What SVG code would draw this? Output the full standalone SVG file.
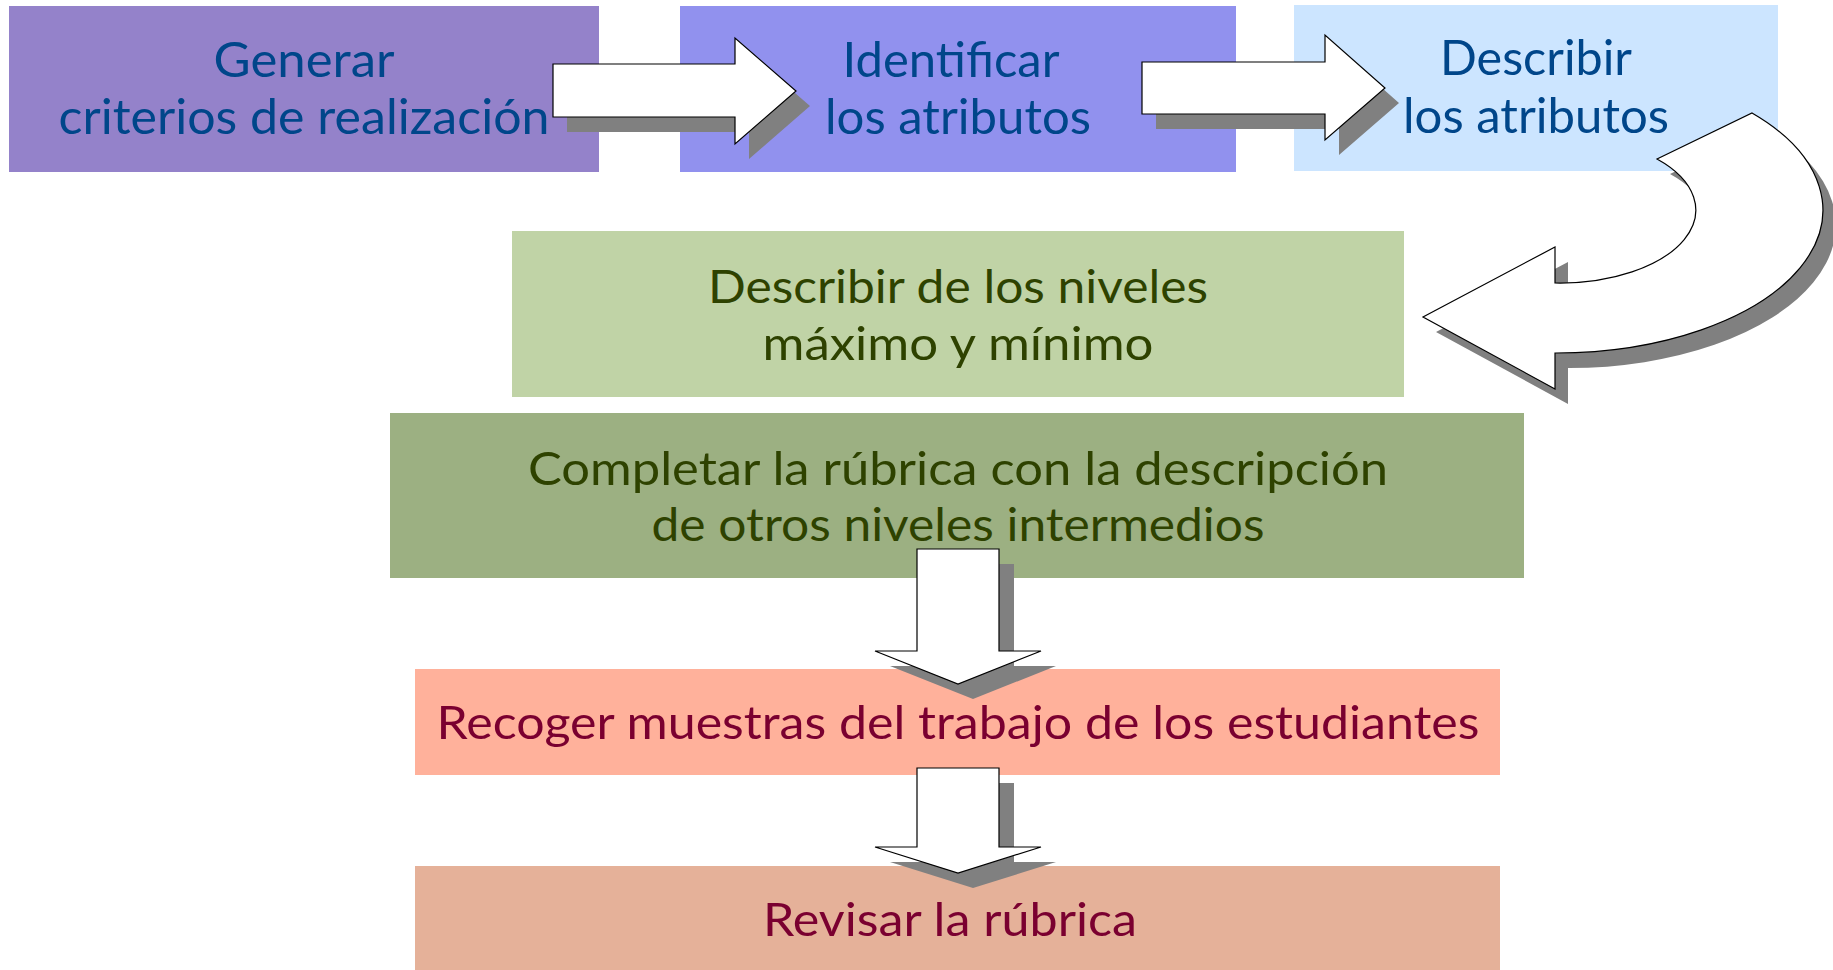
<svg xmlns="http://www.w3.org/2000/svg" width="1833" height="970" viewBox="0 0 1833 970">
<style>
  .lbl { font-family: Lato, "Liberation Sans", sans-serif; text-anchor: middle; }
  .blue { fill: #00468A; font-size: 48px; }
  .green { fill: #2E4200; font-size: 46px; }
  .red { fill: #7A0030; font-size: 46px; }
  .arrow { fill: #FFFFFF; stroke: #000000; stroke-width: 1.2; stroke-linejoin: miter; }
  .shadow { fill: #808080; stroke: none; }
</style>
<defs>
  <path id="a1" d="M553,64 L735,64 L735,38 L796,91 L735,144 L735,117 L553,117 Z"/>
  <path id="a2" d="M1142,62 L1325,62 L1325,35 L1385,88 L1325,140 L1325,114 L1142,114 Z"/>
  <path id="a3" d="M1752,113 A267,143 0 0 1 1555,353 L1555,389 L1423,317 L1555,247 L1555,283 A136,73 0 0 0 1657,159 Z"/>
  <path id="a4" d="M917,549 L999,549 L999,651 L1041,651 L958,684 L875,651 L917,651 Z"/>
  <path id="a5" d="M917,768 L999,768 L999,847 L1041,847 L958,873 L875,847 L917,847 Z"/>
</defs>
<rect width="1833" height="970" fill="#FFFFFF"/>

<g id="node-generar">
  <rect x="9" y="6" width="590" height="166" fill="#9482CA"/>
  <text class="lbl blue" x="304" y="77" textLength="181" lengthAdjust="spacingAndGlyphs">Generar</text>
  <text class="lbl blue" x="304" y="134" textLength="491" lengthAdjust="spacingAndGlyphs">criterios de realización</text>
</g>
<g id="node-identificar">
  <rect x="680" y="6" width="556" height="166" fill="#9191EE"/>
  <text class="lbl blue" x="951" y="77" textLength="217" lengthAdjust="spacingAndGlyphs">Identificar</text>
  <text class="lbl blue" x="958" y="134" textLength="266" lengthAdjust="spacingAndGlyphs">los atributos</text>
</g>
<g id="node-describir-atributos">
  <rect x="1294" y="5" width="484" height="166" fill="#CCE5FF"/>
  <text class="lbl blue" x="1536" y="75" textLength="192" lengthAdjust="spacingAndGlyphs">Describir</text>
  <text class="lbl blue" x="1536" y="133" textLength="266" lengthAdjust="spacingAndGlyphs">los atributos</text>
</g>
<g id="node-describir-niveles">
  <rect x="512" y="231" width="892" height="166" fill="#C0D3A6"/>
  <text class="lbl green" x="958" y="303" textLength="500" lengthAdjust="spacingAndGlyphs">Describir de los niveles</text>
  <text class="lbl green" x="958" y="360" textLength="391" lengthAdjust="spacingAndGlyphs">máximo y mínimo</text>
</g>
<g id="node-completar">
  <rect x="390" y="413" width="1134" height="165" fill="#9CB082"/>
  <text class="lbl green" x="958" y="485" textLength="860" lengthAdjust="spacingAndGlyphs">Completar la rúbrica con la descripción</text>
  <text class="lbl green" x="958" y="541" textLength="613" lengthAdjust="spacingAndGlyphs">de otros niveles intermedios</text>
</g>
<g id="node-recoger">
  <rect x="415" y="669" width="1085" height="106" fill="#FFB19B"/>
  <text class="lbl red" x="958" y="739" textLength="1043" lengthAdjust="spacingAndGlyphs">Recoger muestras del trabajo de los estudiantes</text>
</g>
<g id="node-revisar">
  <rect x="415" y="866" width="1085" height="104" fill="#E5B199"/>
  <text class="lbl red" x="950" y="936" textLength="374" lengthAdjust="spacingAndGlyphs">Revisar la rúbrica</text>
</g>

<g id="connectors">
  <use href="#a1" class="shadow" transform="translate(14,15)"/>
  <use href="#a1" class="arrow"/>
  <use href="#a2" class="shadow" transform="translate(14,15)"/>
  <use href="#a2" class="arrow"/>
  <use href="#a3" class="shadow" transform="translate(13,15)"/>
  <use href="#a3" class="arrow"/>
  <use href="#a4" class="shadow" transform="translate(15,15)"/>
  <use href="#a4" class="arrow"/>
  <use href="#a5" class="shadow" transform="translate(15,15)"/>
  <use href="#a5" class="arrow"/>
</g>
</svg>
